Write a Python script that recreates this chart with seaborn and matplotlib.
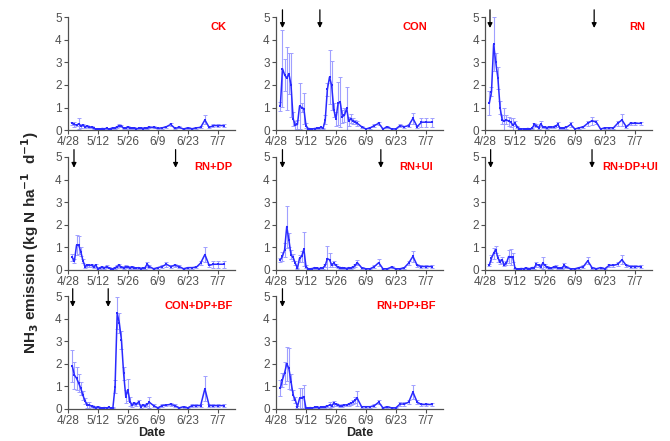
import numpy as np
import pandas as pd
import matplotlib
matplotlib.use("Agg")
import matplotlib.pyplot as plt
import seaborn as sns

# Sampling days (days after 4/28)
days = [2, 3, 4, 5, 6, 7, 8,
        9, 10, 11, 12, 13, 14, 15,
        16, 17, 18, 19, 20, 21, 22,
        23, 24, 25, 26, 27, 28, 29, 30, 31, 32, 33, 34, 35, 36, 37, 38,
        40, 42, 44, 46, 48, 50, 52, 54, 56, 58, 60, 62, 64, 66, 68, 70, 73]

tick_days = [0, 14, 28, 42, 56, 70]
tick_labels = ["4/28", "5/12", "5/26", "6/9", "6/23", "7/7"]

# NH3 emission means and errors per treatment
ck_val = [0.30, 0.25, 0.22, 0.28, 0.18, 0.22, 0.15,
          0.18, 0.12, 0.14, 0.08, 0.05, 0.06, 0.05,
          0.07, 0.06, 0.08, 0.05, 0.07, 0.10, 0.08,
          0.15, 0.20, 0.18, 0.08, 0.10, 0.14, 0.10, 0.08, 0.10, 0.06, 0.08, 0.10, 0.07, 0.10, 0.08, 0.12,
          0.12, 0.08, 0.10, 0.15, 0.25, 0.08, 0.12, 0.05, 0.10, 0.06, 0.10, 0.12, 0.45, 0.12, 0.20, 0.20, 0.20]
ck_err = [0.08, 0.10, 0.06, 0.25, 0.08, 0.06, 0.05,
          0.05, 0.04, 0.04, 0.03, 0.03, 0.03, 0.02,
          0.03, 0.02, 0.03, 0.02, 0.03, 0.04, 0.03,
          0.05, 0.05, 0.06, 0.03, 0.04, 0.04, 0.03, 0.03, 0.03, 0.02, 0.03, 0.03, 0.02, 0.03, 0.03, 0.04,
          0.04, 0.03, 0.03, 0.04, 0.06, 0.03, 0.04, 0.02, 0.03, 0.02, 0.03, 0.04, 0.20, 0.04, 0.07, 0.07, 0.07]

con_val = [1.05, 2.72, 2.45, 2.30, 2.50, 2.00, 0.50,
           0.22, 0.25, 1.07, 1.00, 0.95, 0.20, 0.07,
           0.06, 0.05, 0.07, 0.08, 0.10, 0.12, 0.08,
           0.45, 1.80, 2.35, 1.98, 0.90, 0.50, 1.18, 1.25, 0.60, 0.66, 0.96, 0.40, 0.50, 0.40, 0.35, 0.30,
           0.15, 0.05, 0.10, 0.20, 0.30, 0.05, 0.15, 0.05, 0.05, 0.20, 0.15, 0.20, 0.52, 0.15, 0.35, 0.35, 0.35]
con_err = [0.20, 1.70, 0.70, 1.40, 0.90, 1.40, 0.30,
           0.20, 0.20, 1.00, 0.20, 0.70, 0.10, 0.03,
           0.03, 0.03, 0.03, 0.03, 0.03, 0.03, 0.03,
           0.20, 0.30, 1.20, 1.10, 0.30, 0.30, 0.95, 1.10, 0.30, 0.30, 0.95, 0.20, 0.20, 0.15, 0.10, 0.10,
           0.05, 0.03, 0.05, 0.05, 0.06, 0.03, 0.05, 0.03, 0.03, 0.05, 0.05, 0.05, 0.25, 0.05, 0.20, 0.20, 0.20]

rn_val = [1.20, 1.70, 3.80, 3.00, 2.30, 1.00, 0.45,
          0.40, 0.45, 0.40, 0.35, 0.22, 0.30, 0.15,
          0.07, 0.05, 0.06, 0.05, 0.07, 0.05, 0.08,
          0.25, 0.20, 0.10, 0.28, 0.15, 0.12, 0.10, 0.15, 0.12, 0.15, 0.18, 0.25, 0.10, 0.08, 0.10, 0.12,
          0.25, 0.05, 0.10, 0.15, 0.30, 0.42, 0.35, 0.05, 0.10, 0.10, 0.10, 0.30, 0.45, 0.15, 0.30, 0.30, 0.30]
rn_err = [0.55, 0.20, 1.20, 0.40, 0.50, 0.30, 0.20,
          0.60, 0.20, 0.20, 0.20, 0.30, 0.10, 0.05,
          0.03, 0.02, 0.03, 0.02, 0.03, 0.02, 0.03,
          0.08, 0.06, 0.04, 0.12, 0.05, 0.04, 0.04, 0.05, 0.04, 0.05, 0.06, 0.12, 0.04, 0.03, 0.04, 0.05,
          0.10, 0.03, 0.04, 0.05, 0.12, 0.18, 0.10, 0.03, 0.04, 0.04, 0.04, 0.10, 0.25, 0.05, 0.07, 0.07, 0.07]

rndp_val = [0.55, 0.40, 1.10, 1.10, 0.80, 0.40, 0.15,
            0.20, 0.20, 0.20, 0.15, 0.20, 0.05, 0.10,
            0.12, 0.08, 0.15, 0.10, 0.06, 0.05, 0.10,
            0.15, 0.20, 0.12, 0.10, 0.15, 0.12, 0.10, 0.14, 0.10, 0.08, 0.10, 0.06, 0.08, 0.10, 0.25, 0.15,
            0.05, 0.10, 0.15, 0.25, 0.15, 0.20, 0.15, 0.05, 0.10, 0.10, 0.12, 0.30, 0.68, 0.20, 0.25, 0.25, 0.25]
rndp_err = [0.15, 0.08, 0.45, 0.40, 0.20, 0.10, 0.05,
            0.06, 0.06, 0.08, 0.05, 0.08, 0.03, 0.04,
            0.04, 0.03, 0.05, 0.03, 0.03, 0.02, 0.04,
            0.05, 0.06, 0.04, 0.04, 0.05, 0.04, 0.04, 0.05, 0.04, 0.03, 0.04, 0.02, 0.03, 0.04, 0.12, 0.05,
            0.03, 0.04, 0.05, 0.10, 0.05, 0.08, 0.05, 0.02, 0.04, 0.04, 0.04, 0.10, 0.35, 0.08, 0.15, 0.15, 0.15]

rnui_val = [0.44, 0.60, 0.89, 1.92, 1.33, 0.67, 0.55,
            0.30, 0.07, 0.52, 0.60, 0.92, 0.15, 0.05,
            0.05, 0.06, 0.10, 0.08, 0.05, 0.07, 0.10,
            0.20, 0.50, 0.45, 0.22, 0.30, 0.20, 0.12, 0.08, 0.10, 0.08, 0.06, 0.10, 0.08, 0.12, 0.20, 0.32,
            0.10, 0.05, 0.05, 0.15, 0.32, 0.05, 0.05, 0.12, 0.05, 0.05, 0.10, 0.30, 0.60, 0.20, 0.15, 0.15, 0.15]
rnui_err = [0.10, 0.20, 0.30, 0.93, 0.30, 0.20, 0.15,
            0.10, 0.03, 0.15, 0.25, 0.75, 0.05, 0.02,
            0.02, 0.02, 0.04, 0.03, 0.02, 0.03, 0.04,
            0.06, 0.55, 0.30, 0.08, 0.10, 0.06, 0.04, 0.03, 0.04, 0.03, 0.02, 0.04, 0.03, 0.04, 0.06, 0.10,
            0.04, 0.02, 0.02, 0.05, 0.15, 0.02, 0.02, 0.04, 0.02, 0.02, 0.04, 0.10, 0.25, 0.06, 0.05, 0.05, 0.05]

rndpui_val = [0.22, 0.52, 0.74, 0.89, 0.52, 0.37, 0.44,
              0.22, 0.30, 0.59, 0.56, 0.55, 0.07, 0.05,
              0.05, 0.06, 0.05, 0.08, 0.05, 0.06, 0.10,
              0.10, 0.25, 0.20, 0.15, 0.30, 0.20, 0.12, 0.10, 0.08, 0.12, 0.15, 0.10, 0.08, 0.10, 0.20, 0.12,
              0.05, 0.05, 0.10, 0.15, 0.40, 0.10, 0.05, 0.10, 0.05, 0.20, 0.20, 0.25, 0.45, 0.20, 0.15, 0.15, 0.15]
rndpui_err = [0.06, 0.15, 0.25, 0.15, 0.15, 0.10, 0.12,
              0.06, 0.10, 0.30, 0.35, 0.20, 0.03, 0.02,
              0.02, 0.02, 0.02, 0.03, 0.02, 0.02, 0.04,
              0.04, 0.10, 0.06, 0.05, 0.25, 0.06, 0.04, 0.04, 0.03, 0.04, 0.05, 0.04, 0.03, 0.04, 0.12, 0.04,
              0.02, 0.02, 0.04, 0.05, 0.15, 0.04, 0.02, 0.04, 0.02, 0.08, 0.08, 0.08, 0.20, 0.06, 0.05, 0.05, 0.05]

condpbf_val = [1.90, 1.50, 1.36, 1.14, 0.91, 0.60, 0.35,
               0.18, 0.18, 0.12, 0.08, 0.06, 0.10, 0.05,
               0.05, 0.06, 0.05, 0.07, 0.05, 0.06, 0.99,
               4.25, 3.80, 3.05, 1.58, 0.55, 0.84, 0.32, 0.18, 0.25, 0.20, 0.32, 0.10, 0.18, 0.15, 0.20, 0.30,
               0.15, 0.05, 0.15, 0.18, 0.20, 0.15, 0.05, 0.10, 0.05, 0.15, 0.15, 0.15, 0.90, 0.15, 0.15, 0.15, 0.15]
condpbf_err = [0.70, 0.60, 0.50, 0.40, 0.30, 0.20, 0.15,
               0.15, 0.15, 0.05, 0.04, 0.03, 0.04, 0.02,
               0.02, 0.02, 0.02, 0.03, 0.02, 0.02, 0.30,
               0.70, 0.45, 0.40, 0.30, 0.30, 0.50, 0.20, 0.10, 0.08, 0.06, 0.10, 0.04, 0.06, 0.05, 0.06, 0.25,
               0.05, 0.02, 0.05, 0.06, 0.06, 0.05, 0.02, 0.04, 0.02, 0.05, 0.05, 0.05, 0.55, 0.05, 0.05, 0.05, 0.05]

rndpbf_val = [0.92, 1.29, 1.60, 2.00, 1.80, 1.21, 0.62,
              0.40, 0.10, 0.47, 0.50, 0.55, 0.03, 0.05,
              0.06, 0.05, 0.07, 0.08, 0.06, 0.07, 0.10,
              0.10, 0.12, 0.18, 0.15, 0.25, 0.20, 0.18, 0.12, 0.15, 0.18, 0.18, 0.20, 0.25, 0.30, 0.40, 0.47,
              0.10, 0.10, 0.10, 0.15, 0.30, 0.05, 0.10, 0.05, 0.05, 0.22, 0.22, 0.30, 0.75, 0.30, 0.20, 0.20, 0.20]
rndpbf_err = [0.35, 0.30, 0.50, 0.75, 0.90, 0.35, 0.20,
              0.15, 0.04, 0.45, 0.45, 0.50, 0.02, 0.02,
              0.02, 0.02, 0.03, 0.03, 0.02, 0.03, 0.04,
              0.04, 0.05, 0.15, 0.05, 0.10, 0.06, 0.06, 0.04, 0.05, 0.06, 0.06, 0.06, 0.08, 0.10, 0.12, 0.33,
              0.04, 0.04, 0.04, 0.05, 0.10, 0.02, 0.04, 0.02, 0.02, 0.08, 0.08, 0.10, 0.30, 0.10, 0.07, 0.07, 0.07]

# fertilization arrows (days after 4/28)
con_arrows = [3, 20.5]
rn_arrows = [2.3, 51]
rndp_arrows = [2.8, 50.3]
rnui_arrows = [3, 49]
rndpui_arrows = [2.6, 50]
condpbf_arrows = [2.2, 18.8]
rndpbf_arrows = [3]

panels = [
    # name, values, errors, arrows, column, row, label x (axes fraction)
    ("CK", ck_val, ck_err, [], 0, 0, 0.90),
    ("CON", con_val, con_err, con_arrows, 1, 0, 0.83),
    ("RN", rn_val, rn_err, rn_arrows, 2, 0, 0.91),
    ("RN+DP", rndp_val, rndp_err, rndp_arrows, 0, 1, 0.87),
    ("RN+UI", rnui_val, rnui_err, rnui_arrows, 1, 1, 0.84),
    ("RN+DP+UI", rndpui_val, rndpui_err, rndpui_arrows, 2, 1, 0.87),
    ("CON+DP+BF", condpbf_val, condpbf_err, condpbf_arrows, 0, 2, 0.78),
    ("RN+DP+BF", rndpbf_val, rndpbf_err, rndpbf_arrows, 1, 2, 0.78),
]

sns.set_style("ticks")
plt.rcParams['font.family'] = ['Liberation Sans', 'DejaVu Sans']
plt.rcParams['mathtext.default'] = 'bf'

fig = plt.figure(figsize=(6.7, 4.41), dpi=100)
fig.patch.set_facecolor("white")

col_left = [0.1015, 0.412, 0.724]
row_bottom = [0.705, 0.388, 0.0726]
ax_w, ax_h = 0.249, 0.256

line_col = "#2a2aff"
err_col = "#a0a0ff"
axis_col = "#505050"

for name, vals, errs, arrows, c, r, lx in panels:
    ax = fig.add_axes([col_left[c], row_bottom[r], ax_w, ax_h])
    df = pd.DataFrame({"day": days, "nh3": vals, "err": errs})
    ax.errorbar(df["day"], df["nh3"], yerr=df["err"], fmt="none",
                ecolor=err_col, elinewidth=0.8, capsize=1.5, capthick=0.7, zorder=2)
    sns.lineplot(data=df, x="day", y="nh3", ax=ax, color=line_col, lw=1.1,
                 marker="s", markersize=1.8, markeredgewidth=0, errorbar=None, zorder=3)
    ax.set_xlim(0, 78)
    ax.set_ylim(0, 5)
    ax.set_xticks(tick_days)
    ax.set_xticklabels(tick_labels)
    ax.set_yticks(range(6))
    ax.tick_params(labelsize=8.5, colors=axis_col, length=3, width=0.8, pad=1.5)
    for s in ["left", "bottom"]:
        ax.spines[s].set_color(axis_col)
        ax.spines[s].set_linewidth(0.9)
    sns.despine(ax=ax)
    ax.set_xlabel("Date" if r == 2 else "", fontsize=9, fontweight="bold", labelpad=0)
    ax.set_ylabel("")
    ax.text(lx, 0.91, name, transform=ax.transAxes, color="red", fontsize=8,
            fontweight="bold", ha="center", va="center")
    for a in arrows:
        ax.annotate("", xy=(a, 4.4), xytext=(a, 5.45),
                    arrowprops=dict(arrowstyle="-|>", color="black", lw=0.9, mutation_scale=7),
                    annotation_clip=False)

fig.text(0.045, 0.45, r"NH$_3$ emission (kg N ha$^{-1}$  d$^{-1}$)", rotation=90,
         fontsize=11, fontweight="bold", ha="center", va="center")

fig.savefig("out.png", dpi=100)
